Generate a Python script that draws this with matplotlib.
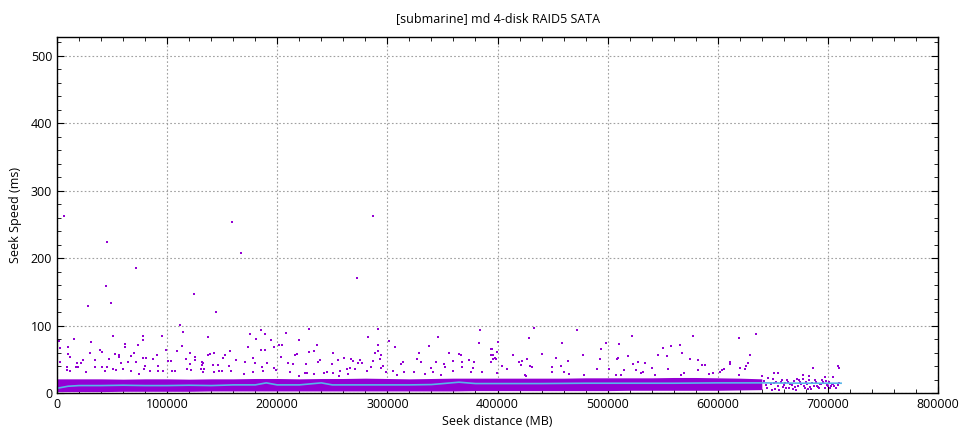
import numpy as np
import matplotlib.pyplot as plt
from matplotlib.ticker import MultipleLocator

plt.rcParams['font.family'] = ['Open Sans', 'DejaVu Sans']

# dense band of seeks, envelope read per 20000 MB bin
band_x = [0, 20000, 40000, 60000, 80000, 100000, 120000, 140000, 160000, 180000,
          200000, 220000, 240000, 260000, 280000, 300000, 320000, 340000, 360000,
          380000, 400000, 420000, 440000, 460000, 480000, 500000, 520000, 540000,
          560000, 580000, 600000, 620000, 640000]
band_lo = [2, 2, 2, 2.5, 2.5, 2.5, 2.5, 3, 3, 3, 3, 3, 3, 3, 3, 3, 3, 3, 3,
           3.5, 3.5, 3.5, 3.5, 3.5, 3.5, 3.5, 4, 4, 4, 4, 4, 4.5, 5]
band_hi = [21, 21, 21, 20.5, 21, 21, 20.5, 21, 21, 21.5, 21.5, 21, 21.5, 21.5, 22,
           21.5, 21, 21.5, 22, 22, 22, 22, 22, 22, 22.5, 22.5, 22.5, 22.5, 23, 23,
           22.5, 22, 21]

# sparse tail of the band
tail_x = [642000, 645000, 648000, 650000, 652000, 655000, 657000, 659000, 661000,
          663000, 665000, 667000, 669000, 671000, 673000, 675000, 677000, 679000,
          681000, 683000, 685000, 687000, 689000, 691000, 693000, 695000, 697000,
          699000, 701000, 703000, 705000, 707000, 709000, 644000, 649000, 653000,
          658000, 662000, 666000, 670000, 674000, 678000, 682000, 686000, 690000,
          694000, 698000, 702000, 706000, 646000, 651000, 656000, 660000, 664000,
          668000, 672000, 676000, 680000, 684000, 688000, 692000, 696000, 700000,
          704000, 710000]
tail_y = [18, 8, 14, 21, 6, 11, 17, 9, 15, 20, 7, 12, 18, 5, 10, 16, 21, 8, 13,
          19, 6, 11, 17, 9, 14, 20, 7, 12, 16, 10, 14, 8, 12, 12, 5, 16, 20, 7,
          14, 9, 19, 11, 6, 15, 10, 13, 18, 8, 11, 22, 15, 4, 12, 17, 6, 21, 13,
          17, 9, 19, 7, 16, 10, 13, 15]

# outliers above the band
out_x = [6640, 45700, 44800, 28500, 49400, 72100, 124800, 158500, 166700, 272100,
         286600, 144800,
         111800, 114800, 51200, 15700, 78500, 78500, 95100, 30900, 2100, 62100, 62100,
         73900, 113600, 10300, 3000, 39400, 40600, 52700, 70300, 108800, 98800, 120600,
         9700, 11500, 30000, 56600, 56600, 67500, 90900, 78500, 81200, 87500, 125500,
         125700, 131500, 23900, 34500, 47500, 101200, 103300, 117000, 120300, 57900,
         64200, 18200, 22100, 2400, 71800, 80000, 91800, 17000, 19100, 9100, 34300,
         40900, 45700, 50600, 53600, 60300, 67500, 79100, 84500, 91800, 96100, 104200,
         107300, 117900, 122100, 130600, 132700, 8800, 11800, 26400, 43900, 74500,
         136700, 175500, 185500, 189100, 180600, 208200, 228500, 219400, 193900, 173400,
         201800, 204500, 196700, 235700, 184800, 189100, 157500, 138500, 136700, 152700,
         142100, 215700, 218200, 228500, 233000, 250300, 260900, 177600, 150600, 162100,
         203300, 170300, 179400, 190300, 209400, 214500, 225700, 237000, 239100, 249700,
         254800, 141500, 146100, 132500, 131500, 156600, 133600, 142700, 147000, 149400,
         158200, 169400, 177900, 186100, 187000, 196700, 198500, 211200, 220000, 224800,
         227000, 233000, 242400, 245200, 250600, 256600, 263300, 256300,
         291200, 282100, 345700, 383900, 383000, 301200, 291200, 306600, 338200, 288500,
         291200, 293900, 328500, 355700, 364800, 366400, 394500, 394500, 266600, 269100,
         286600, 292900, 295700, 294500, 273000, 277000, 274800, 266100, 284800, 312700,
         313900, 327000, 330600, 343900, 351200, 352700, 359400, 368100, 367300, 373900,
         378800, 377500, 394200, 395500, 281800, 299100, 304800, 315500, 324500, 339400,
         341200, 359700, 375500, 385500, 263900, 270900, 308800, 334500, 349100,
         433000, 472100, 428200, 522100, 510000, 458500, 498200, 400600, 394800, 493900,
         399100, 395700, 413900, 440000, 477200, 518500, 508200, 509100, 493000, 427000,
         527300, 523000, 419400, 421800, 463900, 453000, 420900, 429400, 431200, 404500,
         397600, 398200, 399700, 408500, 425100, 425700, 449100, 449700, 460000, 464500,
         457600, 478500, 490300, 501200, 507600, 512400, 514800, 525700,
         577500, 619300, 634800, 557600, 565700, 550300, 567500, 545700, 553900, 574800,
         582100, 629400, 527500, 533900, 585700, 588200, 611200, 611200, 582100, 627500,
         625500, 620300, 624300, 605700, 603600, 602400, 540300, 554800, 569400, 595700,
         592100, 532000, 530200, 543000, 651200, 654800, 640600, 619700, 566600,
         709400, 710300, 686700, 677500, 697600, 704800, 683000]
out_y = [263, 224, 159, 129, 133, 186, 147, 254, 208, 171,
         263, 120,
         100.7, 89.8, 84.8, 79.9, 84.8, 78.9, 84.3, 75.4, 77.8, 72.4, 68.4,
         71, 69.5, 68, 66.5, 63.5, 61, 57.6, 59, 62, 63.5, 59,
         57.6, 53.6, 59, 56, 53.6, 54.6, 56, 51.6, 52.5, 50.1, 54,
         48.6, 45.6, 48.6, 48.6, 50.6, 47.6, 47.6, 51, 43.2, 45.1,
         45.6, 44.2, 44.2, 46.6, 46.1, 40.2, 40.6, 38.7, 38.2, 39.1, 39.1,
         38.7, 38.2, 35.7, 34.7, 36.2, 33.2, 36.2, 33.2, 32.7, 33.2, 32.7,
         32.7, 35.7, 33.8, 35.3, 31.2, 34.2, 33.2, 31.2, 32.3, 28.7,
         82.9, 87.3, 93.3, 87.3, 79.9, 88.8, 94.8, 78.4, 78.4, 68,
         71.4, 71, 68, 71, 63.5, 63.5, 62, 57.6, 56, 56,
         59, 56.5, 57.6, 60.6, 62, 59, 52.5, 51.6, 51.6, 48.6,
         53.1, 45.6, 44.2, 44.2, 44.2, 42.7, 42.7, 46.6, 48.6, 42.7,
         48.6, 41.2, 41.2, 45, 41, 39.7, 35.3, 30.8, 32.3, 32.3,
         32.3, 27.8, 31.7, 38.2, 32.3, 37.7, 33.8, 31.2, 25.3, 30.2,
         30.2, 28.7, 29.3, 31.2, 30.2, 32.7, 36.2, 24.8,
         94.8, 82.9, 82.9, 93.3, 74, 76.9, 71, 68, 69.5, 59,
         62, 56, 59, 59, 57.6, 56, 65, 56, 50.1, 47.1,
         47.1, 50.1, 39.7, 37.7, 44.2, 44.2, 48.6, 36.6, 38.2, 43.6,
         45.6, 50.1, 45.6, 45.6, 42.7, 38.2, 47.1, 45.6, 38.2, 48.6,
         45.6, 36.6, 45.6, 50.1, 32.3, 30.8, 32.3, 30.8, 30.8, 37.7,
         30.8, 32.3, 30.8, 31.7, 27.8, 35.3, 26.8, 27.8, 26.8,
         96.7, 93.3, 81.4, 84.3, 72.4, 74, 74, 75.4, 65, 65,
         60.6, 56, 56, 57.6, 56, 54.6, 50.1, 51.6, 50.1, 50.1,
         45.6, 42.7, 46.6, 47.1, 47.1, 51.6, 41.2, 39.7, 38.2, 39.7,
         51.6, 50.1, 29.3, 35.3, 26.3, 24.8, 38.2, 31.7, 30.8, 27.8,
         39.7, 26.3, 35.3, 35.3, 26.8, 26.8, 33.8, 34.7,
         84.3, 81.4, 87.3, 69.5, 71, 66.5, 59, 56, 54.6, 50.1,
         48.6, 56, 45.6, 44.2, 41.2, 41.2, 45.6, 42.7, 33.8, 44.2,
         39.7, 36.6, 35.3, 35.3, 33.8, 31.7, 36.6, 35.3, 29.3, 29.8,
         27.8, 31.7, 29.3, 26.3, 29.3, 29.3, 24.8, 26.8, 26.3,
         39.7, 36.6, 36.6, 26.3, 23.3, 23.3, 24.8]

# running mean of the seek time
mean_x = [0, 10000, 20000, 40000, 60000, 80000, 100000, 120000, 140000, 160000,
          180000, 190000, 200000, 220000, 240000, 250000, 280000, 300000, 320000,
          340000, 365000, 380000, 400000, 440000, 480000, 520000, 560000, 600000,
          640000, 680000, 712000]
mean_y = [7, 10, 11, 11, 11.5, 11, 11, 11.5, 11, 12,
          12, 15, 12, 12, 15, 12, 12, 12, 12,
          12.5, 16, 14, 14, 14, 14.5, 14.5, 14.5, 15,
          15, 14.5, 14.5]

purple = '#9400d3'

fig = plt.figure(figsize=(9.6, 4.32), dpi=100)
ax = fig.add_axes([0.0594, 0.0903, 0.9177, 0.8241])

ax.fill_between(band_x, band_lo, band_hi, color=purple, linewidth=0)
ax.scatter(tail_x, tail_y, s=3, marker='s', color=purple, linewidths=0)
ax.scatter(out_x, out_y, s=2.2, marker='s', color=purple, linewidths=0)
ax.plot(mean_x, mean_y, color='#56b4e9', linewidth=1.2)

ax.set_xlim(0, 800000)
ax.set_ylim(0, 528)
ax.xaxis.set_major_locator(MultipleLocator(100000))
ax.xaxis.set_minor_locator(MultipleLocator(20000))
ax.yaxis.set_major_locator(MultipleLocator(100))
ax.yaxis.set_minor_locator(MultipleLocator(20))
ax.tick_params(which='both', direction='in', top=True, right=True, labelsize=9)
ax.tick_params(which='major', length=5)
ax.tick_params(which='minor', length=3)
ax.grid(True, which='major', color='#a0a0a0', linestyle=(0, (1.5, 2)), linewidth=0.8)
ax.set_axisbelow(True)
for sp in ax.spines.values():
    sp.set_linewidth(1.0)

ax.set_title('[submarine] md 4-disk RAID5 SATA', fontsize=9, pad=11)
ax.set_xlabel('Seek distance (MB)', fontsize=9, labelpad=3)
ax.set_ylabel('Seek Speed (ms)', fontsize=9, labelpad=6)

fig.savefig('out.png', dpi=100)
